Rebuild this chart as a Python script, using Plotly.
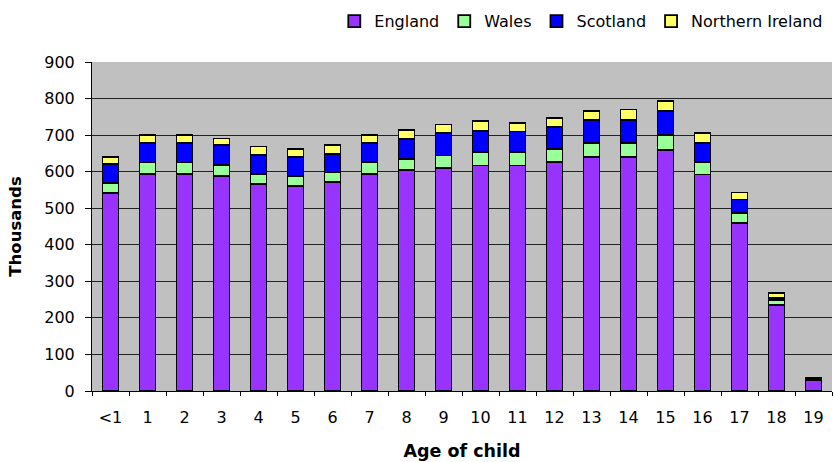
import plotly.graph_objects as go

ages = ["<1", "1", "2", "3", "4", "5", "6", "7", "8", "9",
        "10", "11", "12", "13", "14", "15", "16", "17", "18", "19"]
england = [542, 593, 593, 588, 566, 561, 571, 593, 604, 611,
           617, 617, 626, 640, 640, 659, 592, 459, 236, 30]
wales = [28, 32, 32, 30, 27, 27, 27, 33, 31, 33,
         37, 36, 36, 39, 39, 41, 34, 27, 14, 2]
scotland = [52, 53, 53, 54, 52, 52, 51, 52, 55, 61,
            57, 57, 61, 63, 63, 65, 52, 38, 5, 3]
n_ireland = [18, 22, 22, 19, 24, 23, 23, 22, 24, 24,
             27, 23, 24, 23, 28, 28, 27, 19, 14, 2]

series = [
    ("England", england, "#9933FF"),
    ("Wales", wales, "#99FF99"),
    ("Scotland", scotland, "#0000FF"),
    ("Northern Ireland", n_ireland, "#FFFF66"),
]

FONT = "DejaVu Sans, Arial, sans-serif"

fig = go.Figure()
for name, vals, col in series:
    fig.add_trace(go.Bar(
        x=ages, y=vals, name=name,
        marker=dict(color=col, line=dict(color="#000000", width=1.8)),
    ))

fig.update_layout(
    width=834, height=462,
    barmode="stack",
    bargap=0.57,
    paper_bgcolor="#FFFFFF",
    plot_bgcolor="#C0C0C0",
    margin=dict(l=92, r=2, t=62, b=71),
    font=dict(family=FONT, size=16, color="#000000"),
    showlegend=True,
    legend=dict(
        orientation="h", x=0.995, xanchor="right", y=0.991, yref="container",
        yanchor="top", traceorder="normal", itemwidth=30,
        font=dict(family=FONT, size=16, color="#000000"),
        bgcolor="rgba(0,0,0,0)",
    ),
    xaxis=dict(
        type="category",
        tickson="boundaries",
        ticks="outside", ticklen=4, tickcolor="#000000",
        showline=True, linecolor="#000000", linewidth=1,
        showgrid=False,
        tickfont=dict(family=FONT, size=16),
        ticklabelstandoff=12,
        title=dict(text="<b>Age of child</b>", font=dict(family=FONT, size=17.5), standoff=18),
    ),
    yaxis=dict(
        range=[0, 900], dtick=100,
        ticks="outside", ticklen=6, tickcolor="#000000",
        showline=True, linecolor="#000000", linewidth=1,
        showgrid=True, gridcolor="#222222", gridwidth=1,
        zeroline=False,
        tickfont=dict(family=FONT, size=16),
        ticklabelstandoff=7,
        title=dict(text="<b>Thousands</b>", font=dict(family=FONT, size=16.5), standoff=18),
    ),
)

fig.write_html("out.html", config={"displayModeBar": False},
               post_script="document.body.style.margin='0';")
